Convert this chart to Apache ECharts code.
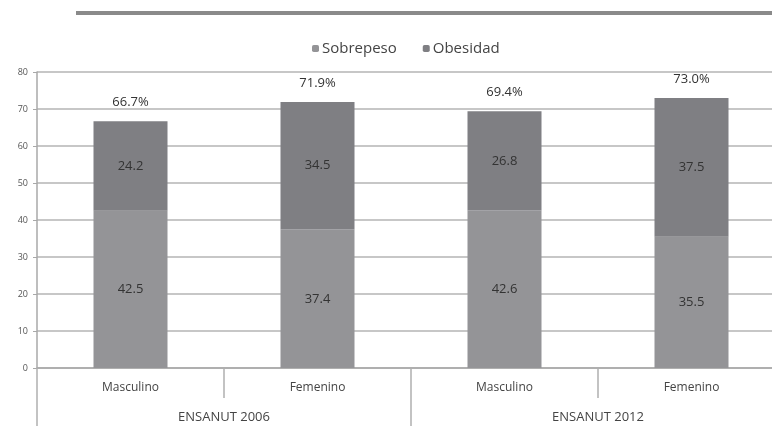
<!DOCTYPE html>
<html>
<head>
<meta charset="utf-8">
<script src="https://cdn.jsdelivr.net/npm/echarts@6/dist/echarts.min.js"></script>
<style>html,body{margin:0;padding:0;background:#fff}#c{width:772px;height:426px}</style>
</head>
<body>
<div id="c"></div>
<script>
const categories = ['Masculino', 'Femenino', 'Masculino', 'Femenino'];
const groups = ['ENSANUT 2006', 'ENSANUT 2012'];
const sobrepeso = [42.5, 37.4, 42.6, 35.5];
const obesidad = [24.2, 34.5, 26.8, 37.5];
const totals = ['66.7%', '71.9%', '69.4%', '73.0%'];
const yTicks = [0, 10, 20, 30, 40, 50, 60, 70, 80];

const chart = echarts.init(document.getElementById('c'));
const font = '"Open Sans",sans-serif';
chart.setOption({
  animation: false,
  textStyle: { fontFamily: font },
  legend: {
    top: 36, left: 307,
    itemWidth: 7, itemHeight: 7, itemGap: 26,
    textStyle: { fontSize: 15, color: '#444', fontFamily: font, padding: [0, 0, 0, -2] },
    data: ['Sobrepeso', 'Obesidad']
  },
  graphic: [{
    type: 'line', shape: { x1: 76, y1: 13, x2: 772, y2: 13 },
    style: { stroke: '#8a8a8a', lineWidth: 4 }
  }],
  grid: { left: 37, top: 72, width: 748, height: 296, outerBoundsMode: 'none', containLabel: false },
  xAxis: [{
    type: 'category', data: categories, position: 'bottom',
    axisLine: { lineStyle: { color: '#a8a8a8', width: 1.5 } },
    axisTick: { show: true, length: 30, lineStyle: { color: '#b0b0b0', width: 1.5 } },
    axisLabel: { color: '#444', fontSize: 12, margin: 14 }
  }, {
    type: 'category', data: groups, position: 'bottom',
    axisLine: { show: false },
    axisTick: { show: true, length: 58, lineStyle: { color: '#b0b0b0', width: 1.5 } },
    axisLabel: { color: '#444', fontSize: 13, margin: 43 }
  }],
  yAxis: {
    type: 'value', min: 0, max: 80, interval: 10,
    axisLine: { show: true, lineStyle: { color: '#a8a8a8', width: 1.5 } },
    axisTick: { show: true, length: 4, lineStyle: { color: '#a8a8a8' } },
    splitLine: { lineStyle: { color: '#b4b4b4', width: 1.5 } },
    axisLabel: { color: '#555', fontSize: 9, margin: 9,
      formatter: v => yTicks.includes(v) ? String(v) : '' }
  },
  series: [{
    name: 'Sobrepeso', type: 'bar', stack: 't', barWidth: 74,
    itemStyle: { color: '#949497' },
    label: { show: true, position: 'inside', color: '#333', fontSize: 13, fontFamily: font },
    data: sobrepeso
  }, {
    name: 'Obesidad', type: 'bar', stack: 't', barWidth: 74,
    itemStyle: { color: '#7f7f83' },
    label: { show: true, position: 'inside', color: '#333', fontSize: 13, fontFamily: font },
    data: obesidad
  }, {
    name: 'total', type: 'bar', stack: 't', barWidth: 74,
    itemStyle: { color: 'transparent' },
    label: { show: true, position: 'top', distance: 12, color: '#333', fontSize: 13, fontFamily: font,
      formatter: p => totals[p.dataIndex] },
    data: totals.map(() => 0),
    tooltip: { show: false }
  }]
});
</script>
</body>
</html>
